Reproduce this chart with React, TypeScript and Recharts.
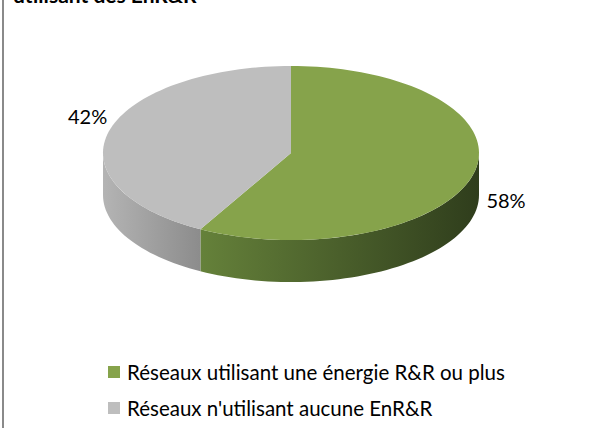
import React from "react"
import { PieChart, Pie, Legend } from "recharts"

const labels = ["Réseaux utilisant une énergie R&R ou plus", "Réseaux n'utilisant aucune EnR&R"]
const values = [58, 42]

const TOP = ["#86A34B", "#BEBEBE"]
const WALL = [
  ["#65813A", "#2F3D1C"],
  ["#B4B4B4", "#8C8C8C"],
]

const data = labels.map((name, i) => ({ name, value: values[i], fill: TOP[i] }))

const FONT = "Lato, 'Open Sans', sans-serif"
const SQUASH = 0.463
const DEPTH = 42

function pt(cx: number, cy: number, rx: number, ry: number, deg: number, dy = 0) {
  const r = (-deg * Math.PI) / 180
  return `${(cx + rx * Math.cos(r)).toFixed(2)},${(cy + ry * Math.sin(r) + dy).toFixed(2)}`
}

function arcPts(cx: number, cy: number, rx: number, ry: number, a0: number, a1: number, dy = 0) {
  const n = Math.max(2, Math.ceil(Math.abs(a1 - a0) / 2))
  const out: string[] = []
  for (let i = 0; i <= n; i++) out.push(pt(cx, cy, rx, ry, a0 + ((a1 - a0) * i) / n, dy))
  return out
}

function Slice3D(props: any) {
  const { cx, cy, outerRadius, startAngle, endAngle, fill } = props
  const name = props.payload?.name ?? props.name
  const idx = Math.max(0, labels.indexOf(name))
  const rx = outerRadius
  const ry = outerRadius * SQUASH
  const hi = Math.max(startAngle, endAngle)
  const lo = Math.min(startAngle, endAngle)

  // front-facing part of the rim: angles in (-180, 0) mod 360
  const walls: [number, number][] = []
  for (let k = -2; k <= 1; k++) {
    const a = Math.max(lo, -180 + 360 * k)
    const b = Math.min(hi, 360 * k)
    if (b > a) walls.push([a, b])
  }
  const gid = `wall-grad-${idx}`

  return (
    <g>
      <defs>
        <linearGradient id={gid} x1="0" y1="0" x2="1" y2="0">
          <stop offset="0%" stopColor={WALL[idx][0]} />
          <stop offset="100%" stopColor={WALL[idx][1]} />
        </linearGradient>
      </defs>
      {walls.map(([a, b], i) => {
        const top = arcPts(cx, cy, rx, ry, b, a)
        const bot = arcPts(cx, cy, rx, ry, a, b, DEPTH)
        return <polygon key={i} points={[...top, ...bot].join(" ")} fill={`url(#${gid})`} />
      })}
      <polygon points={[`${cx},${cy}`, ...arcPts(cx, cy, rx, ry, startAngle, endAngle)].join(" ")} fill={fill} />
    </g>
  )
}

function renderLabel(props: any) {
  const { cx, cy, midAngle, outerRadius, percent } = props
  const r = (-midAngle * Math.PI) / 180
  const front = Math.sin(r) > 0
  const x = cx + (outerRadius + (front ? 34 : 22)) * Math.cos(r)
  const y = cy + (outerRadius * SQUASH + 20) * Math.sin(r) + (front ? 20 : -10)
  return (
    <text x={x} y={y} textAnchor="middle" dominantBaseline="central" fill="#000" fontSize={20} fontFamily={FONT}>
      {`${Math.round(percent * 100)}%`}
    </text>
  )
}

function LegendBox(props: any) {
  const items = [...((props.payload || []) as any[])].sort(
    (a, b) => labels.indexOf(a.value) - labels.indexOf(b.value)
  )
  return (
    <div style={{ fontFamily: FONT, fontSize: 20.5, color: "#000" }}>
      {items.map((it, i) => (
        <div key={i} style={{ display: "flex", alignItems: "center", height: 36 }}>
          <span style={{ width: 12, height: 12, background: it.color, marginRight: 7, display: "inline-block" }} />
          <span>{it.value}</span>
        </div>
      ))}
    </div>
  )
}

export default function App() {
  return (
    <div style={{ position: "absolute", left: 0, top: 0, width: 601, height: 428, background: "#fff", overflow: "hidden" }}>
      <div style={{ position: "absolute", left: 2, top: 0, width: 2, height: 428, background: "#8A8A8A" }} />
      <div
        style={{
          position: "absolute",
          left: 13,
          top: -16,
          fontFamily: FONT,
          fontWeight: 700,
          fontSize: 21,
          lineHeight: "21px",
          whiteSpace: "nowrap",
        }}
      >
        utilisant des EnR&amp;R
      </div>
      <PieChart width={601} height={428} margin={{ top: 0, right: 0, bottom: 0, left: 0 }}>
        <Pie
          data={data}
          dataKey="value"
          nameKey="name"
          cx={291}
          cy={153}
          outerRadius={188}
          startAngle={90}
          endAngle={-270}
          stroke="none"
          shape={Slice3D}
          label={renderLabel}
          labelLine={false}
          isAnimationActive={false}
        />
        <Legend
          layout="horizontal"
          verticalAlign="bottom"
          align="left"
          content={LegendBox}
          wrapperStyle={{ top: 354, left: 108, bottom: "auto", width: 480 }}
        />
      </PieChart>
    </div>
  )
}
